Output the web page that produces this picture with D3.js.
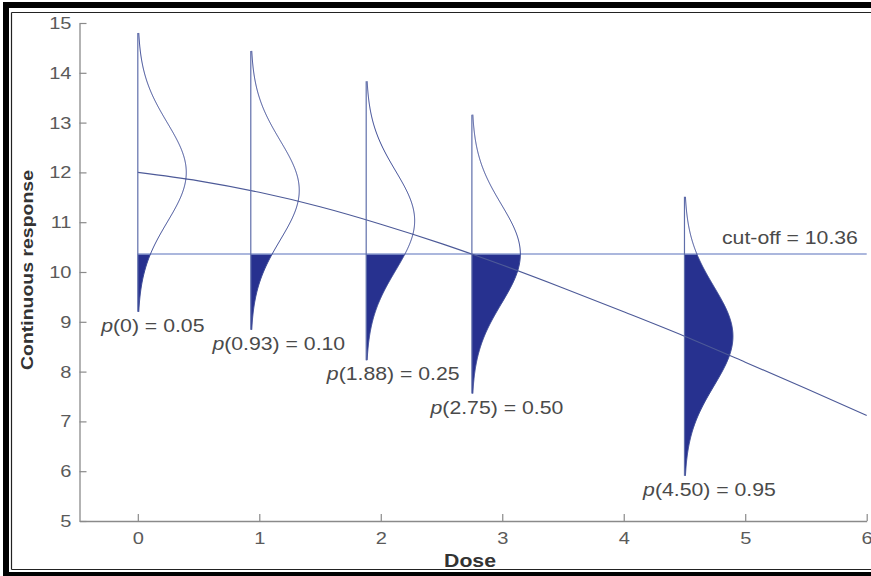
<!DOCTYPE html>
<html>
<head>
<meta charset="utf-8">
<script src="https://cdn.jsdelivr.net/npm/d3@7"></script>
<style>
  html, body { margin: 0; padding: 0; background: #fff; }
  svg { display: block; font-family: "Liberation Sans", Arial, sans-serif; }
</style>
</head>
<body>
<svg id="chart" width="871" height="576"></svg>
<script>
// ---- data ----
const doses = [0, 0.93, 1.88, 2.75, 4.5];
const doseText = ["0", "0.93", "1.88", "2.75", "4.50"];
const means = [12.0, 11.64, 11.03, 10.36, 8.71];
const probText = ["0.05", "0.10", "0.25", "0.50", "0.95"];
const sd = 1.0;
const cutoff = 10.36;
const curveDose = [0, 0.5, 1, 1.5, 2, 2.5, 3, 3.5, 4, 4.5, 5, 5.5, 6];
const curveResp = [12.0, 11.83, 11.60, 11.31, 10.96, 10.57, 10.14, 9.68, 9.20, 8.71, 8.19, 7.66, 7.12];
const xTicks = [0, 1, 2, 3, 4, 5, 6];
const yTicks = [5, 6, 7, 8, 9, 10, 11, 12, 13, 14, 15];

// ---- layout ----
const labelDx = [15, 28, 27, 25, 25];
const SX = 1.18; // horizontal text stretch seen in the reference
const svg = d3.select("#chart");
const x = d3.scaleLinear().domain([-0.48, 6]).range([79.5, 866.7]);
const y = d3.scaleLinear().domain([5, 15]).range([521, 23]);

// frame
svg.append("rect").attr("x", 3).attr("y", 2).attr("width", 868).attr("height", 6).attr("fill", "#000");
svg.append("rect").attr("x", 3).attr("y", 2).attr("width", 6).attr("height", 574).attr("fill", "#000");
svg.append("rect").attr("x", 3).attr("y", 572).attr("width", 868).attr("height", 4).attr("fill", "#000");
svg.append("line").attr("x1", 11.5).attr("x2", 871).attr("y1", 12.5).attr("y2", 12.5).attr("stroke", "#222").attr("stroke-width", 1.2);
svg.append("line").attr("x1", 11.5).attr("x2", 11.5).attr("y1", 12.5).attr("y2", 569.5).attr("stroke", "#222").attr("stroke-width", 1.2);
svg.append("line").attr("x1", 11.5).attr("x2", 871).attr("y1", 569.5).attr("y2", 569.5).attr("stroke", "#222").attr("stroke-width", 1.2);

// axes
const gy = svg.append("g").attr("transform", `translate(${x(-0.48)},0)`)
  .call(d3.axisLeft(y).tickValues(yTicks).tickFormat(d3.format("d")).tickSize(-7).tickSizeOuter(0).tickPadding(8));
const gx = svg.append("g").attr("transform", `translate(0,${y(5)})`)
  .call(d3.axisBottom(x).tickValues(xTicks).tickFormat(d3.format("d")).tickSize(-7).tickSizeOuter(0).tickPadding(11));
[gy, gx].forEach(g => {
  g.select(".domain").attr("stroke", "#8a8a8a").attr("stroke-width", 1.3);
  g.selectAll(".tick line").attr("stroke", "#8a8a8a").attr("stroke-width", 1.2);
  g.selectAll(".tick text").attr("fill", "#5a5a5a").attr("font-size", 17)
    .attr("font-family", "Liberation Sans, Arial, sans-serif");
});
gy.selectAll(".tick text").attr("x", -8 / SX).attr("transform", `scale(${SX},1)`);
gx.selectAll(".tick text").attr("transform", `scale(${SX},1)`);

// axis titles
svg.append("text").attr("transform", `translate(470,567) scale(${SX},1)`)
  .attr("text-anchor", "middle").attr("font-size", 18).attr("font-weight", "bold").attr("fill", "#333")
  .text("Dose");
svg.append("text").attr("transform", `translate(33,270) rotate(-90) scale(${SX},1)`)
  .attr("text-anchor", "middle").attr("font-size", 16.5).attr("font-weight", "bold").attr("fill", "#333")
  .text("Continuous response");

// normal density (model shape)
const pdf = z => Math.exp(-0.5 * (z / sd) * (z / sd)) / (sd * Math.sqrt(2 * Math.PI));
const span = 2.8 * sd;

const fillColor = "#27318f";
const lineColor = "#3c4a95";

doses.forEach((d, i) => {
  const m = means[i];
  const ys = d3.range(m - span, m + span + 1e-9, 0.02);
  const tail = ys.filter(v => v <= cutoff).concat([Math.min(cutoff, m + span)]);
  const area = d3.area()
    .y(v => y(v))
    .x0(() => x(d))
    .x1(v => x(d + pdf(v - m)));
  svg.append("path").datum(tail).attr("d", area).attr("fill", fillColor).attr("stroke", "none");
});

// cut-off line
svg.append("line")
  .attr("x1", x(0)).attr("x2", x(6))
  .attr("y1", y(cutoff)).attr("y2", y(cutoff))
  .attr("stroke", "#8f9fd2").attr("stroke-width", 1.6);

// mean response curve
svg.append("path")
  .datum(curveDose.map((d, i) => [d, curveResp[i]]))
  .attr("d", d3.line().x(p => x(p[0])).y(p => y(p[1])).curve(d3.curveMonotoneX))
  .attr("fill", "none").attr("stroke", "#4d5a98").attr("stroke-width", 1.1);

doses.forEach((d, i) => {
  const m = means[i];
  const ys = d3.range(m - span, m + span + 1e-9, 0.02);
  svg.append("line")
    .attr("x1", x(d)).attr("x2", x(d))
    .attr("y1", y(m + span)).attr("y2", y(m - span))
    .attr("stroke", "#5f6eaa").attr("stroke-width", 1.2);
  svg.append("path").datum(ys)
    .attr("d", d3.line().x(v => x(d + pdf(v - m))).y(v => y(v)))
    .attr("fill", "none").attr("stroke", lineColor).attr("stroke-width", 1);
  const t = svg.append("text")
    .attr("transform", `translate(${x(d) + labelDx[i]},${y(m - span) + 20}) scale(${SX},1)`)
    .attr("text-anchor", "middle").attr("font-size", 18).attr("fill", "#4a4a4a");
  t.append("tspan").attr("font-style", "italic").text("p");
  t.append("tspan").text(`(${doseText[i]}) = ${probText[i]}`);
});

// cut-off label
svg.append("text")
  .attr("transform", `translate(722,244) scale(${SX},1)`)
  .attr("font-size", 18).attr("fill", "#4a4a4a")
  .text(`cut-off = ${cutoff.toFixed(2)}`);
</script>
</body>
</html>
